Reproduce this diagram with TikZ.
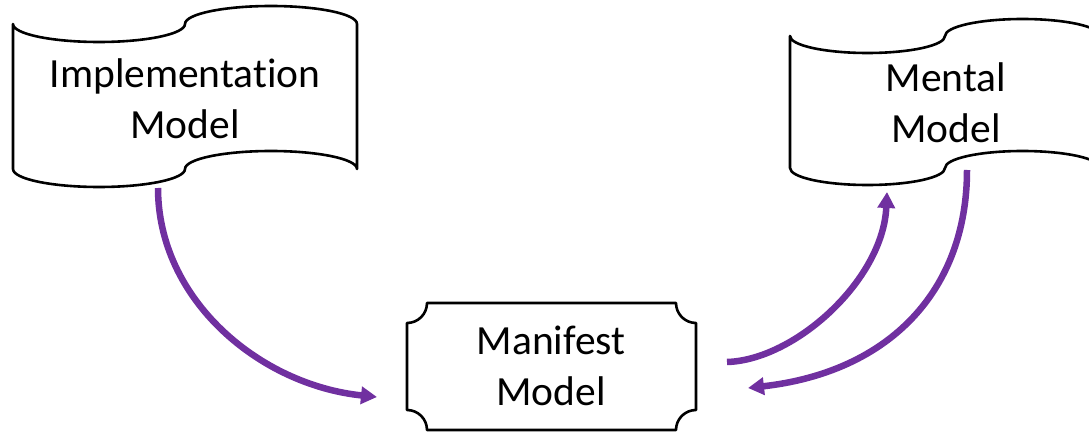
\documentclass[tikz,border=0pt]{standalone}
\usepackage{fontspec}
\setmainfont{Carlito}[Ligatures=NoCommon]
\usetikzlibrary{arrows.meta}
\definecolor{arrowpurple}{HTML}{7030A0}
\begin{document}
\begin{tikzpicture}[x=1pt, y=1pt,
  outline/.style={draw, line width=2.6pt, line join=round},
  lbl/.style={align=center, inner sep=0pt, font=\fontsize{41.5}{51}\selectfont},
  flow/.style={draw=arrowpurple, line width=6.5pt, -{Triangle[length=16pt, width=17pt]}}]
\useasboundingbox (0,0) rectangle (1089,431);
% punched tape shapes
\draw[outline] (13,407) arc[start angle=180, end angle=360, x radius=86, y radius=18]
  arc[start angle=180, end angle=0, x radius=86, y radius=18] -- (357,262)
  arc[start angle=0, end angle=180, x radius=86, y radius=18]
  arc[start angle=0, end angle=-180, x radius=86, y radius=18] -- cycle;
\draw[outline] (790,395) arc[start angle=180, end angle=360, x radius=77.5, y radius=17]
  arc[start angle=180, end angle=0, x radius=77.5, y radius=17] -- (1100,263)
  arc[start angle=0, end angle=180, x radius=77.5, y radius=17]
  arc[start angle=0, end angle=-180, x radius=77.5, y radius=17] -- cycle;
% plaque
\draw[outline] (407,108) arc[start angle=-90, end angle=0, radius=20] -- (676,128)
  arc[start angle=180, end angle=270, radius=20] -- (696,21)
  arc[start angle=90, end angle=180, radius=20] -- (427,1)
  arc[start angle=0, end angle=90, radius=20] -- cycle;
\node[lbl] (impl) at (185,332) {Implementation\\Model};
\node[lbl] (mental) at (946,328) {Mental\\Model};
\node[lbl] (manifest) at (551,65) {Manifest\\Model};
\coordinate (impl-out) at (158,243);
\coordinate (manifest-in) at (377,34);
\coordinate (manifest-out) at (727,69);
\coordinate (mental-in) at (887,239);
\coordinate (mental-out) at (967,261);
\coordinate (manifest-back) at (748,43);
\draw[flow] (impl-out) .. controls (158,131) and (260,46) .. (manifest-in);
\draw[flow] (manifest-out) .. controls (795,71) and (883,151) .. (mental-in);
\draw[flow] (mental-out) .. controls (967,141) and (890,59) .. (manifest-back);
\end{tikzpicture}
\end{document}
